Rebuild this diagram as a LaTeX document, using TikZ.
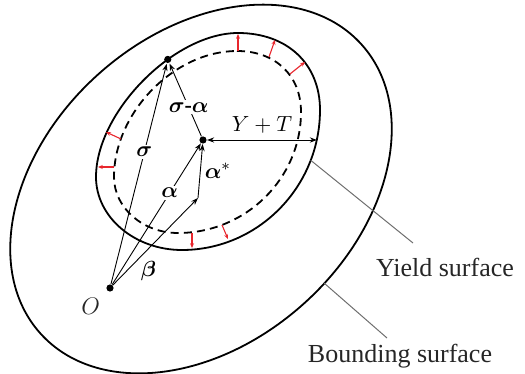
\documentclass[tikz,border=0pt]{standalone}
\usepackage{amsmath,amssymb}
\usepackage{fontspec}
\setmainfont{Liberation Serif}
\usetikzlibrary{arrows.meta, positioning, calc}
\definecolor{ldgray}{HTML}{6E6E6E}
\definecolor{flowred}{HTML}{E8262D}

\begin{document}
\begin{tikzpicture}[
  x=0.5pt, y=-0.5pt,
  >={Stealth[length=3.6pt, width=2.6pt]},
  surf/.style={line width=0.9pt, black},
  vec/.style={->, line width=0.45pt, black},
  flow/.style={-{Stealth[length=2.4pt, width=2pt]}, line width=0.55pt, flowred},
  lead/.style={line width=0.5pt, ldgray},
  dot/.style={circle, fill=black, inner sep=0pt, minimum size=3.6pt},
  sym/.style={font=\fontsize{11}{13}\selectfont, inner sep=1pt},
  tag/.style={font=\fontsize{13}{15}\selectfont, text=black!85},
]
\useasboundingbox (0,0) rectangle (525,374);

% Bounding surface
\draw[surf, rotate around={42:(201,189)}] (201,189) ellipse [x radius=216, y radius=154];

% Yield surface
\draw[surf] (238,33)
  .. controls (287.2,33) and (320,63.8) .. (320,110)
  .. controls (320,187) and (257.9,250) .. (182,250) coordinate[pos=0.23] (ys)
  .. controls (134.7,250) and (96,217.2) .. (96,177)
  .. controls (96,112.2) and (174.1,33) .. (238,33) node[dot, pos=0.64] (sig) {};

% Shrunk surface (dashed)
\draw[surf, dash pattern=on 4pt off 2.6pt] (237,51)
  .. controls (275.4,51) and (301,75.4) .. (301,112)
  .. controls (301,178.6) and (245.7,233) .. (178,233)
  .. controls (142.8,233) and (114,207.8) .. (114,177)
  .. controls (114,112.7) and (174.3,51) .. (237,51);

% Red arrows
\foreach \xa/\ya/\xb/\yb in {238/51/238/34, 269/57/275/40, 290/74/305/62,
    121/139/106/132, 114/167/98/167, 192/233/192/248, 222/225/228/239} {
  \draw[flow] (\xa,\ya) -- (\xb,\yb);
}

% ---- Points ----
\node[dot] (O) at (110,288) {};
\node[dot] (ctr) at (203,140) {};
\coordinate (bt) at (198,198);
\coordinate (yt) at (317,140);

\node[tag, below left=0pt of O] (olbl) {$O$};

% ---- Vectors ----
\draw[vec] (O) -- node[sym, pos=0.6, fill=white] {$\boldsymbol{\sigma}$} (sig);
\draw[vec] (O) -- node[sym, pos=0.65, fill=white] {$\boldsymbol{\alpha}$} (ctr);
\draw[vec] (O) -- node[sym, pos=0.3, anchor=north west] {$\boldsymbol{\beta}$} (bt);
\draw[vec] (bt) -- node[sym, midway, right, xshift=1pt] {$\boldsymbol{\alpha}^{*}$} (ctr);
\draw[vec] (ctr) -- node[sym, pos=0.4, fill=white]
  {$\boldsymbol{\sigma}$\textbf{-}$\boldsymbol{\alpha}$} (sig);
\draw[vec, <->] (ctr) -- node[sym, above, yshift=2pt] {$Y+T$} (yt);

% ---- Leaders ----
\coordinate (ye) at (413,243);
\coordinate (bs) at (324,283);
\coordinate (be) at (387,338);
\draw[lead] (ys) -- (ye);
\draw[lead] (bs) -- (be);

\node[tag] (ylbl) at (445,267) {Yield surface};
\node[tag] (blbl) at (400,356) {Bounding surface};

\end{tikzpicture}
\end{document}
